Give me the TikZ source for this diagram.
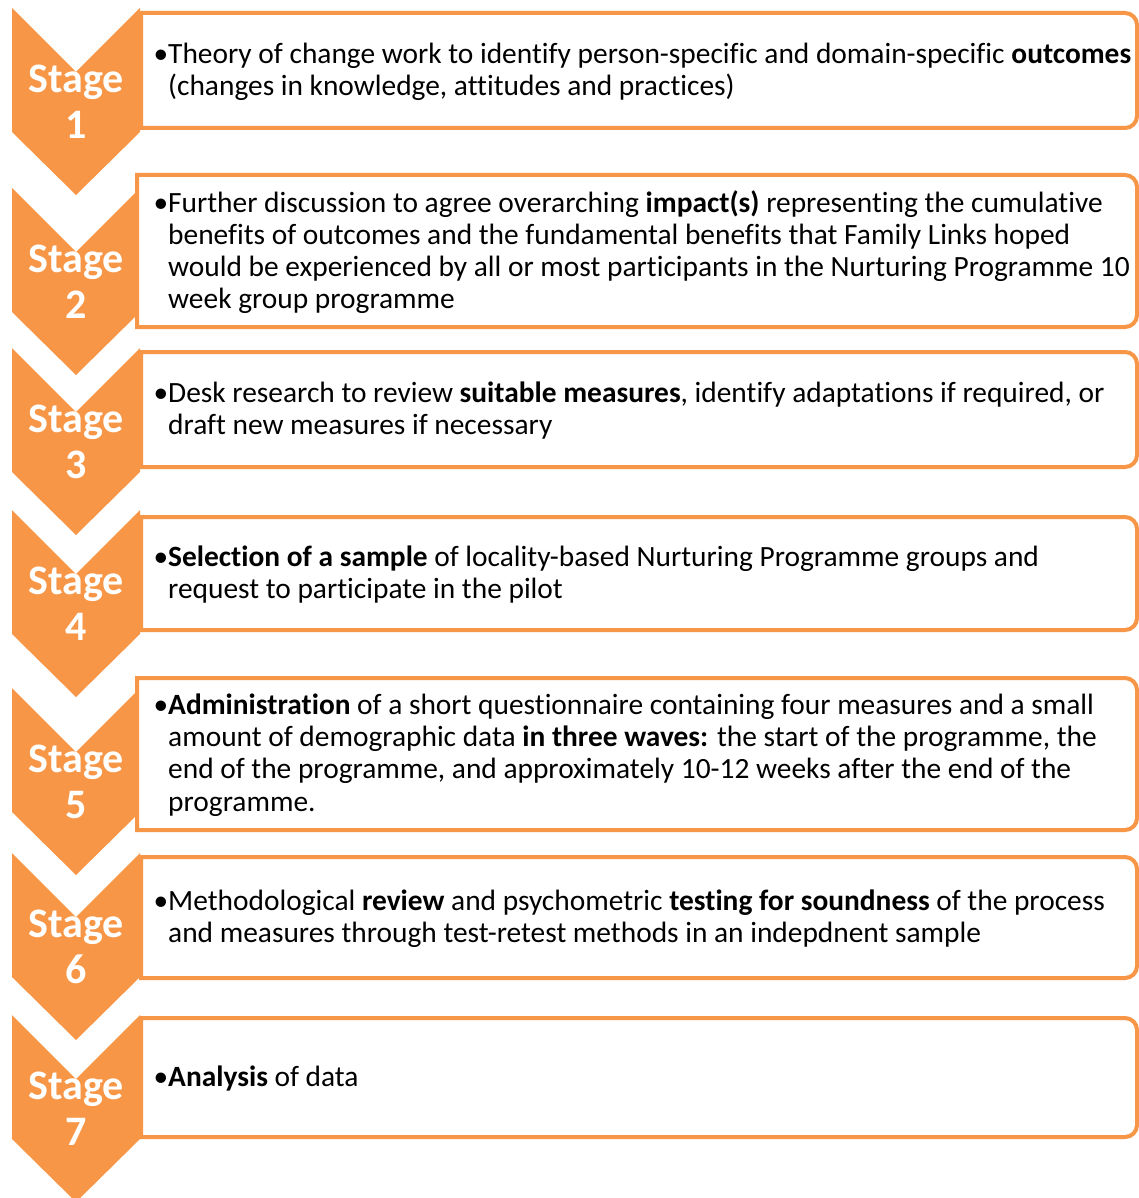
\documentclass[tikz,border=0pt]{standalone}
\usepackage{fontspec}
\setmainfont[Ligatures=NoCommon]{Carlito}
\usepackage{tikz}
\usetikzlibrary{positioning}
\definecolor{StageOrange}{HTML}{F79646}
\newcommand{\bodyfont}{\fontsize{29.4}{32.2}\selectfont}
\newcommand{\labelfont}{\fontsize{42}{46}\selectfont\bfseries}
\newcommand{\stagechevron}[2]{% top, number
  \fill[StageOrange] (12,#1) -- (76,#1+64) -- (140,#1) -- (140,#1+124)
    -- (76,#1+187) -- (12,#1+124) -- cycle;
  \node[stagelabel] (stage#2) at (76,#1+94) {Stage\\#2};}
\newcommand{\stagebox}[4]{% left, top, bottom, number
  \draw[boxline] (#1,#3) -- (#1,#2) [rounded corners=12pt] -- (1137,#2)
    -- (1137,#3) [sharp corners] -- cycle;
  \coordinate (box#4) at (168,{(#2+#3)/2+1});}

\begin{document}
\begin{tikzpicture}[x=1pt,y=-1pt,
  boxline/.style={draw=StageOrange,line width=4pt,fill=white},
  stagetext/.style={anchor=west,align=left,font=\bodyfont,text=black,inner sep=0pt},
  stagelabel/.style={font=\labelfont,text=white,align=center,inner sep=0pt}]
  \useasboundingbox[fill=white] (0,0) rectangle (1139,1198);
  % chevrons down the left
  \foreach \t/\n in {8/1,188/2,348/3,510/4,688/5,853/6,1015/7}
    {\stagechevron{\t}{\n}}
  % boxes
  \stagebox{141}{13}{128}{1}
  \stagebox{137}{175}{327}{2}
  \stagebox{141}{352}{467}{3}
  \stagebox{141}{517}{630}{4}
  \stagebox{137}{678}{830}{5}
  \stagebox{141}{857}{978}{6}
  \stagebox{141}{1018}{1137}{7}
  % texts
  \node[stagetext] (text1) at (box1) {\llap{•}Theory of change work to identify person-specific and domain-specific \textbf{outcomes}\\
    (changes in knowledge, attitudes and practices)};
  \node[stagetext] (text2) at (box2) {\llap{•}Further discussion to agree overarching \textbf{impact(s)} representing the cumulative\\
    benefits of outcomes and the fundamental benefits that Family Links hoped\\
    would be experienced by all or most participants in the Nurturing Programme 10\\
    week group programme};
  \node[stagetext] (text3) at (box3) {\llap{•}Desk research to review \textbf{suitable measures}, identify adaptations if required, or\\
    draft new measures if necessary};
  \node[stagetext] (text4) at (box4) {\llap{•}\textbf{Selection of a sample} of locality-based Nurturing Programme groups and\\
    request to participate in the pilot};
  \node[stagetext] (text5) at (box5) {\llap{•}\textbf{Administration} of a short questionnaire containing four measures and a small\\
    amount of demographic data \textbf{in three waves:} the start of the programme, the\\
    end of the programme, and approximately 10-12 weeks after the end of the\\
    programme.};
  \node[stagetext] (text6) at (box6) {\llap{•}Methodological \textbf{review} and psychometric \textbf{testing for soundness} of the process\\
    and measures through test-retest methods in an indepdnent sample};
  \node[stagetext] (text7) at (box7) {\llap{•}\textbf{Analysis} of data};
\end{tikzpicture}
\end{document}
